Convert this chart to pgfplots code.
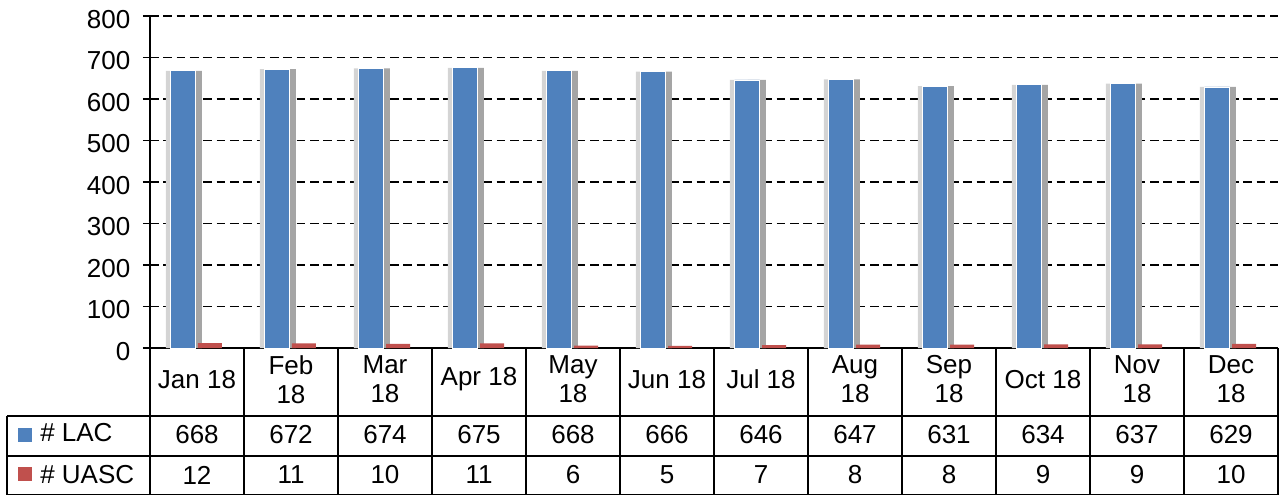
\documentclass[border=0pt]{standalone}
\usepackage{pgfplots}
\pgfplotsset{compat=1.18}
\usepackage{pgfplotstable}
\usepackage{fontspec}
\setmainfont{Liberation Sans}
\definecolor{lacblue}{HTML}{4F81BD}
\definecolor{uascred}{HTML}{C0504D}
\definecolor{shlight}{HTML}{D4D4D4}
\definecolor{shdark}{HTML}{A5A5A5}
\newcommand\tabfont{\fontsize{19.5}{21.75}\selectfont}
\pgfplotstableread{
x lac uasc
0 668 12
1 672 11
2 674 10
3 675 11
4 668 6
5 666 5
6 646 7
7 647 8
8 631 8
9 634 9
10 637 9
11 629 10
}\data
\begin{document}
\begin{tikzpicture}
\begin{axis}[name=ax, scale only axis, width=846pt, height=249pt,
  xmin=-0.5, xmax=11.5, ymin=0, ymax=800,
  axis lines*=left, axis line style={line width=1.3pt, black},
  ytick={0,100,...,800}, ymajorgrids,
  major grid style={black, line width=1.4pt, dash pattern=on 6.5pt off 3.5pt},
  tick align=outside, major tick length=5.25pt,
  ytick style={line width=1.3pt, black},
  xtick={0,...,11}, xtick style={draw=none},
  xticklabels={Jan 18,{Feb\\18},{Mar\\18},Apr 18,{May\\18},Jun 18,Jul 18,{Aug\\18},{Sep\\18},Oct 18,{Nov\\18},{Dec\\18}},
  xticklabel style={align=center, anchor=center, yshift=-18.2pt, font=\tabfont},
  yticklabel style={anchor=east, font=\tabfont, yshift=-2.5pt, xshift=-6pt},
  /pgf/number format/assume math mode=true,
  clip=false,
]
\addplot[ybar, bar width=13.5pt, bar shift=-16.65pt, fill=shlight, draw=none] table[x=x,y=lac]{\data};
\addplot[ybar, bar width=13.5pt, bar shift=-3.15pt, fill=shdark, draw=none] table[x=x,y=lac]{\data};
\addplot[ybar, bar width=18.75pt, bar shift=-10.5pt, fill=lacblue, draw=white, line width=0.6pt] table[x=x,y=lac]{\data};
\addplot[ybar, bar width=18pt, bar shift=9.75pt, fill=uascred, draw=none] table[x=x,y=uasc]{\data};
% data table rows
\addplot[draw=none, point meta=explicit symbolic, nodes near coords,
  nodes near coords style={anchor=center, font=\tabfont, inner sep=0pt}] table[x=x, y expr=-207.5, meta=lac]{\data};
\addplot[draw=none, point meta=explicit symbolic, nodes near coords,
  nodes near coords style={anchor=center, font=\tabfont, inner sep=0pt}] table[x=x, y expr=-306, meta=uasc]{\data};
% table lines
\draw[line width=1.3pt] (rel axis cs:-0.12677,-0.2039) -- (rel axis cs:1,-0.2039);
\draw[line width=1.3pt] (rel axis cs:-0.12677,-0.3262) -- (rel axis cs:1,-0.3262);
\draw[line width=1.3pt] (rel axis cs:-0.12677,-0.4416) -- (rel axis cs:1,-0.4416);
\draw[line width=1.3pt] (rel axis cs:-0.12677,-0.2039) -- (rel axis cs:-0.12677,-0.4416);
\pgfplotsinvokeforeach{0,...,12}{\draw[line width=1.3pt] (rel axis cs:#1/12,0) -- (rel axis cs:#1/12,-0.4416);}
% legend keys
\fill[lacblue] (rel axis cs:-0.11702,-0.2410) rectangle (rel axis cs:-0.10461,-0.2831);
\fill[uascred] (rel axis cs:-0.11702,-0.3575) rectangle (rel axis cs:-0.10461,-0.4006);
\node[anchor=west, inner sep=0pt, font=\tabfont] at (rel axis cs:-0.09752,-0.2540) {\# LAC};
\node[anchor=west, inner sep=0pt, font=\tabfont] at (rel axis cs:-0.09752,-0.3810) {\# UASC};
\end{axis}
\pgfresetboundingbox
\path[use as bounding box] (ax.south west) ++(-112.5pt,-111.75pt) rectangle ++(966pt,372.75pt);
\end{tikzpicture}
\end{document}
